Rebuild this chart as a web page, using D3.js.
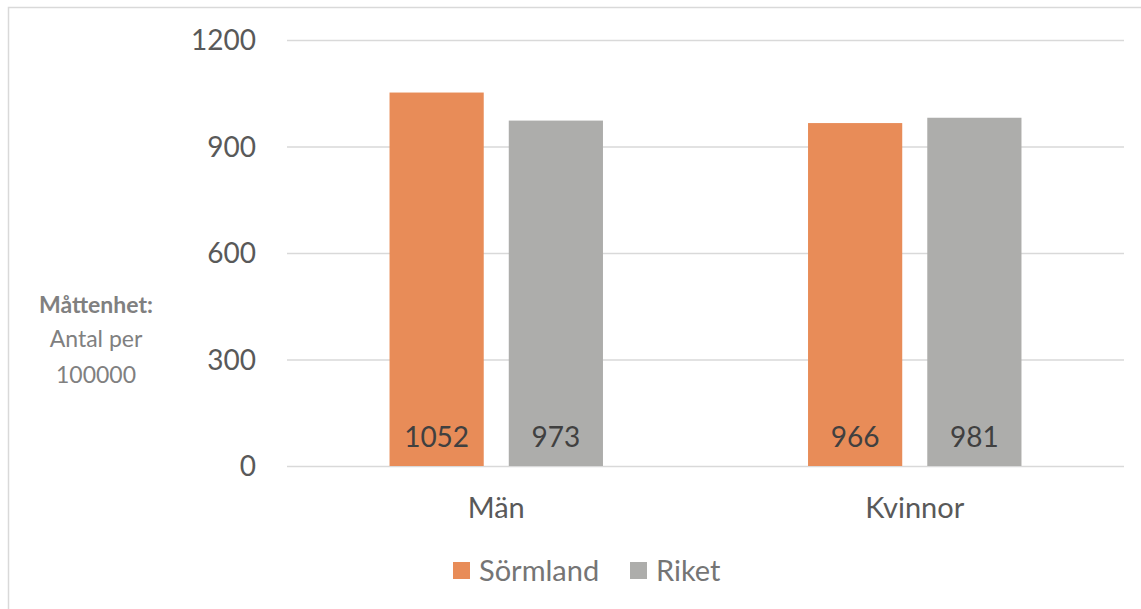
<!DOCTYPE html>
<html>
<head>
<meta charset="utf-8">
<script src="https://cdn.jsdelivr.net/npm/d3@7"></script>
<style>
  body { margin: 0; background: #fff; }
  text { font-family: Lato, "Noto Sans", sans-serif; }
</style>
</head>
<body>
<div id="chart"></div>
<script>
var svgWidth = 1141;
var svgHeight = 609;

// Data
var categories = ["Män", "Kvinnor"];
var seriesNames = ["Sörmland", "Riket"];
var sormland = [1052, 966];
var riket = [973, 981];
var yTicks = [0, 300, 600, 900, 1200];
var colors = ["#e88c58", "#adadab"];

var margin = { top: 40, right: 17, bottom: 143, left: 287 };
var chartWidth = svgWidth - margin.left - margin.right;
var chartHeight = svgHeight - margin.top - margin.bottom;

var svg = d3.select("#chart").append("svg")
    .attr("width", svgWidth)
    .attr("height", svgHeight);

// Outer border
svg.append("rect")
    .attr("x", 8.5).attr("y", 7.5)
    .attr("width", svgWidth + 20).attr("height", svgHeight + 20)
    .attr("fill", "none")
    .attr("stroke", "#d9d9d9")
    .attr("stroke-width", 1.5);

var chartGroup = svg.append("g")
    .attr("transform", `translate(${margin.left}, ${margin.top})`);

// Scales
var x0 = d3.scaleBand().domain(categories).range([0, chartWidth]);
var groupWidth = x0.bandwidth() * 0.51;
var x1 = d3.scaleBand().domain(seriesNames).range([0, groupWidth]).paddingInner(0.21);
var y = d3.scaleLinear().domain([0, 1200]).range([chartHeight, 0]);

// Gridlines
chartGroup.selectAll(".grid")
    .data(yTicks)
    .enter()
    .append("line")
    .attr("x1", 0).attr("x2", chartWidth)
    .attr("y1", d => y(d) + 0.5).attr("y2", d => y(d) + 0.5)
    .attr("stroke", "#d9d9d9")
    .attr("stroke-width", 1.5);

// Y tick labels
chartGroup.selectAll(".ytick")
    .data(yTicks)
    .enter()
    .append("text")
    .attr("x", -31)
    .attr("y", d => y(d))
    .attr("dy", "0.36em")
    .attr("text-anchor", "end")
    .style("font-size", "28px")
    .style("fill", "#595959")
    .text(d => d);

// Bars
var table = categories.map((c, i) => ({ cat: c, values: [
    { name: seriesNames[0], value: sormland[i] },
    { name: seriesNames[1], value: riket[i] }
]}));

var groups = chartGroup.selectAll(".group")
    .data(table)
    .enter()
    .append("g")
    .attr("transform", d => `translate(${x0(d.cat) + (x0.bandwidth() - groupWidth) / 2}, 0)`);

groups.selectAll("rect")
    .data(d => d.values)
    .enter()
    .append("rect")
    .attr("x", d => x1(d.name))
    .attr("y", d => y(d.value))
    .attr("width", x1.bandwidth())
    .attr("height", d => chartHeight - y(d.value))
    .attr("fill", (d, i) => colors[i]);

groups.selectAll(".val")
    .data(d => d.values)
    .enter()
    .append("text")
    .attr("x", d => x1(d.name) + x1.bandwidth() / 2)
    .attr("y", chartHeight - 29)
    .attr("dy", "0.36em")
    .attr("text-anchor", "middle")
    .style("font-size", "28px")
    .style("fill", "#404040")
    .text(d => d.value);

// X labels
chartGroup.selectAll(".xlab")
    .data(categories)
    .enter()
    .append("text")
    .attr("x", d => x0(d) + x0.bandwidth() / 2)
    .attr("y", chartHeight + 42)
    .attr("dy", "0.36em")
    .attr("text-anchor", "middle")
    .style("font-size", "29px")
    .style("fill", "#595959")
    .text(d => d);

// Y axis title
var yTitle = svg.append("text")
    .attr("text-anchor", "middle")
    .style("font-size", "23px")
    .style("fill", "#808080");
yTitle.append("tspan").attr("x", 96).attr("y", 313).style("font-weight", "bold").text("Måttenhet:");
yTitle.append("tspan").attr("x", 96).attr("y", 347).text("Antal per");
yTitle.append("tspan").attr("x", 96).attr("y", 383).text("100000");

// Legend
var legendX = [453, 630];
var legend = svg.selectAll(".legend")
    .data(seriesNames)
    .enter()
    .append("g")
    .attr("transform", (d, i) => `translate(${legendX[i]}, 562)`);

legend.append("rect")
    .attr("width", 17).attr("height", 17)
    .attr("fill", (d, i) => colors[i]);

legend.append("text")
    .attr("x", 26).attr("y", 8.5)
    .attr("dy", "0.36em")
    .style("font-size", "29px")
    .style("fill", "#757575")
    .text(d => d);
</script>
</body>
</html>
